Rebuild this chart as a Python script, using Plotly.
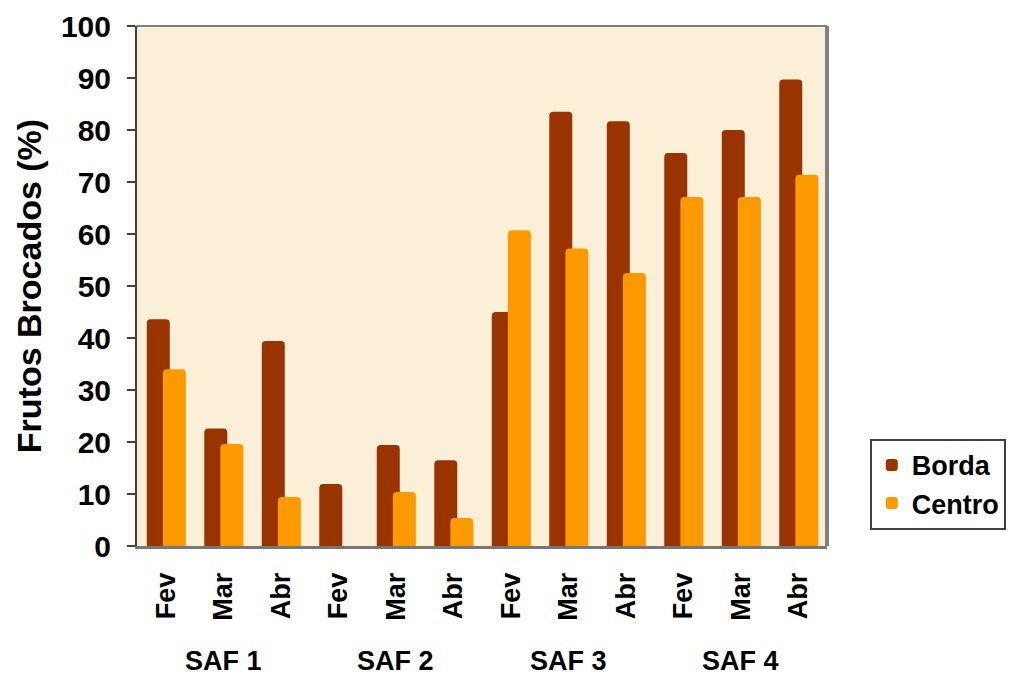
import plotly.graph_objects as go

groups = ["SAF 1", "SAF 2", "SAF 3", "SAF 4"]
months = ["Fev", "Mar", "Abr"]
borda = [43.6, 22.6, 39.4, 11.9, 19.4, 16.5, 45.0, 83.5, 81.7, 75.6, 80.0, 89.7]
centro = [34.0, 19.6, 9.4, 0.0, 10.4, 5.4, 60.7, 57.2, 52.5, 67.1, 67.1, 71.4]
y_ticks = [0, 10, 20, 30, 40, 50, 60, 70, 80, 90, 100]

cats = [f"{g}|{m}" for g in groups for m in months]
tick_text = [m for g in groups for m in months]

FONT = "Liberation Sans, Arial, sans-serif"

fig = go.Figure()
fig.add_trace(go.Bar(
    x=cats, y=borda, name="Borda",
    marker=dict(color="#993300", cornerradius=4, line=dict(width=0)),
    offset=-0.33, width=0.40,
))
fig.add_trace(go.Bar(
    x=cats, y=centro, name="Centro",
    marker=dict(color="#FF9900", cornerradius=4, line=dict(width=0)),
    offset=-0.05, width=0.40,
))

for i, g in enumerate(groups):
    fig.add_annotation(
        x=cats[i * 3 + 1], y=-0.222, xref="x", yref="paper",
        text=f"<b>{g}</b>", showarrow=False,
        font=dict(family=FONT, size=27, color="black"),
        xanchor="center", yanchor="middle",
    )

# plot frame (top and right)
fig.add_shape(type="line", xref="paper", yref="paper", x0=0, x1=1, y0=1, y1=1,
              line=dict(color="#808080", width=2))
fig.add_shape(type="line", xref="paper", yref="paper", x0=1, x1=1, y0=0, y1=1,
              line=dict(color="#808080", width=4))

fig.update_layout(
    width=1009, height=667,
    margin=dict(l=129, r=190, t=18, b=129, autoexpand=False),
    paper_bgcolor="white",
    plot_bgcolor="#FCEFD8",
    barmode="group",
    showlegend=True,
    legend=dict(
        x=1.062, y=0.206, xanchor="left", yanchor="top",
        font=dict(family=FONT, size=27, color="black", weight="bold"),
        bordercolor="#404040", borderwidth=2, bgcolor="white",
        itemsizing="constant", tracegroupgap=0,
    ),
    font=dict(family=FONT, color="black"),
)

fig.update_xaxes(
    type="category", automargin=False,
    tickmode="array", tickvals=cats, ticktext=[f"<b>{t}</b>" for t in tick_text],
    tickangle=-90, tickfont=dict(family=FONT, size=27, color="black"),
    ticklabelstandoff=13,
    showgrid=False, zeroline=False,
    showline=True, linecolor="#777777", linewidth=3,
    ticks="",
    range=[-0.5, 11.5],
)
fig.update_yaxes(
    automargin=False,
    range=[0, 100], tickmode="array", tickvals=y_ticks,
    ticktext=[f"<b>{v}</b>" for v in y_ticks],
    tickfont=dict(family=FONT, size=30, color="black"),
    ticks="outside", ticklen=8, tickwidth=2, tickcolor="#404040",
    ticklabelstandoff=10,
    showgrid=False, zeroline=False,
    showline=True, linecolor="#404040", linewidth=2,
    title=dict(text="<b>Frutos Brocados (%)</b>", font=dict(family=FONT, size=34, color="black"),
               standoff=9),
)

fig.write_html("out.html")
